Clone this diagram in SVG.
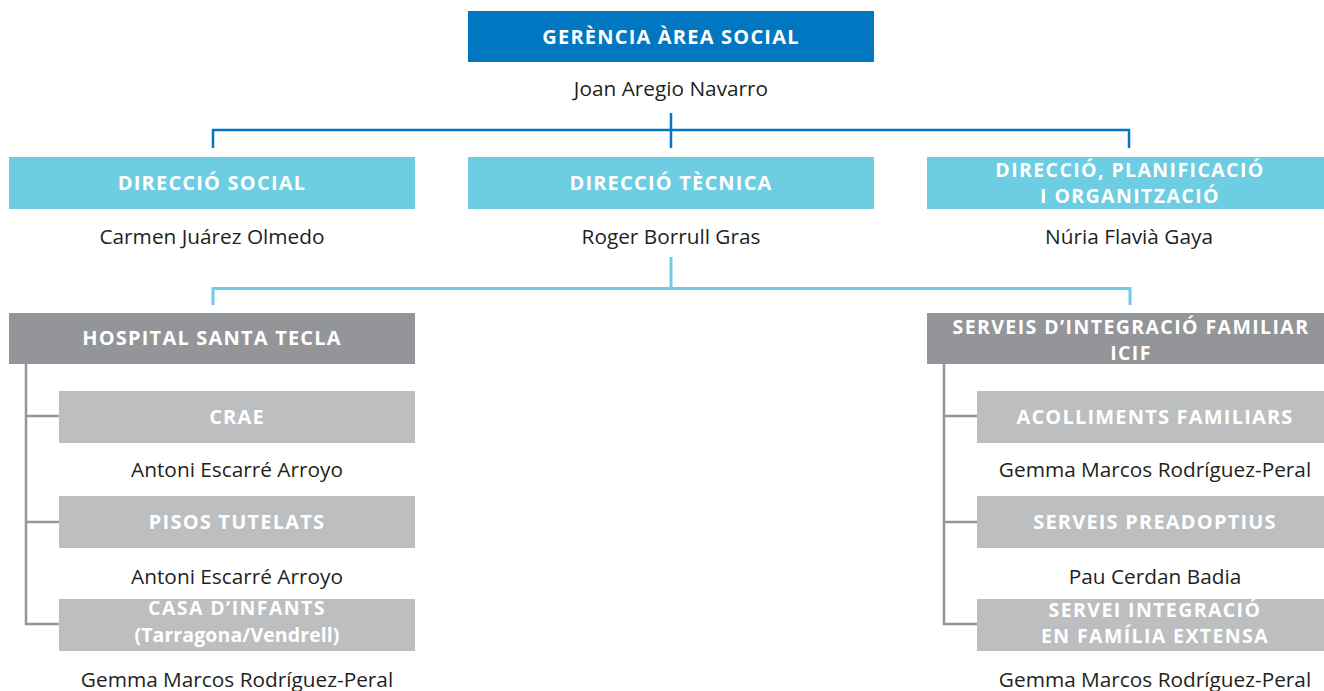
<svg xmlns="http://www.w3.org/2000/svg" width="1324" height="691" viewBox="0 0 1324 691">
<style>
.t{font-family:"Open Sans","Liberation Sans",sans-serif;font-weight:bold;font-size:20px;fill:#ffffff;text-anchor:middle;letter-spacing:1.2px}
.t2{font-size:19.5px;letter-spacing:1.4px}
.lc{letter-spacing:0.1px}
.n{font-family:"Open Sans","Liberation Sans",sans-serif;font-size:20.8px;fill:#231f20;text-anchor:middle}
.b1{fill:#0077c0}
.b2{fill:#6dcde3}
.b3{fill:#939598}
.b4{fill:#bcbec0}
.c1{stroke:#0077c0;stroke-width:2.5;fill:none}
.c2{stroke:#6dcde3;stroke-width:3;fill:none}
.c3{stroke:#939598;stroke-width:2.5;fill:none}
</style>
<rect width="1324" height="691" fill="#ffffff"/>
<g id="connectors">
<path class="c1" d="M213 148V130H1129V148M671 113V148"/>
<path class="c2" d="M213 305V288.5H1130V305M671 257V288.5"/>
<path class="c3" d="M26 364V624H59M26 416H59M26 522H59"/>
<path class="c3" d="M944 364V624H977M944 416H977M944 522H977"/>
</g>
<g id="gerencia">
<rect class="b1" x="468" y="11" width="406" height="51"/>
<text class="t" x="671" y="44">GERÈNCIA ÀREA SOCIAL</text>
<text class="n" x="671" y="96">Joan Aregio Navarro</text>
</g>
<g id="direccio-social">
<rect class="b2" x="9" y="157" width="406" height="52"/>
<text class="t" x="212" y="190">DIRECCIÓ SOCIAL</text>
<text class="n" x="212" y="244">Carmen Juárez Olmedo</text>
</g>
<g id="direccio-tecnica">
<rect class="b2" x="468" y="157" width="406" height="52"/>
<text class="t" x="671" y="190">DIRECCIÓ TÈCNICA</text>
<text class="n" x="671" y="244">Roger Borrull Gras</text>
</g>
<g id="direccio-planificacio">
<rect class="b2" x="927" y="157" width="406" height="52"/>
<text class="t t2" x="1130" y="176.6">DIRECCIÓ, PLANIFICACIÓ</text>
<text class="t t2" x="1130" y="203.4">I ORGANITZACIÓ</text>
<text class="n" x="1129" y="244">Núria Flavià Gaya</text>
</g>
<g id="hospital">
<rect class="b3" x="9" y="313" width="406" height="51"/>
<text class="t" x="212" y="345">HOSPITAL SANTA TECLA</text>
</g>
<g id="crae">
<rect class="b4" x="59" y="391" width="356" height="52"/>
<text class="t" x="237" y="424">CRAE</text>
<text class="n" x="237" y="477">Antoni Escarré Arroyo</text>
</g>
<g id="pisos">
<rect class="b4" x="59" y="496" width="356" height="52"/>
<text class="t" x="237" y="529">PISOS TUTELATS</text>
<text class="n" x="237" y="584">Antoni Escarré Arroyo</text>
</g>
<g id="casa">
<rect class="b4" x="59" y="599" width="356" height="52"/>
<text class="t t2" x="237" y="615.1">CASA D’INFANTS</text>
<text class="t t2 lc" x="237" y="641.9">(Tarragona/Vendrell)</text>
<text class="n" x="237" y="687">Gemma Marcos Rodríguez-Peral</text>
</g>
<g id="serveis-integracio">
<rect class="b3" x="927" y="313" width="406" height="51"/>
<text class="t t2" x="1131" y="333.6">SERVEIS D’INTEGRACIÓ FAMILIAR</text>
<text class="t t2" x="1131" y="360.4">ICIF</text>
</g>
<g id="acolliments">
<rect class="b4" x="977" y="391" width="356" height="52"/>
<text class="t" x="1155" y="424">ACOLLIMENTS FAMILIARS</text>
<text class="n" x="1155" y="477">Gemma Marcos Rodríguez-Peral</text>
</g>
<g id="preadoptius">
<rect class="b4" x="977" y="496" width="356" height="52"/>
<text class="t" x="1155" y="529">SERVEIS PREADOPTIUS</text>
<text class="n" x="1155" y="584">Pau Cerdan Badia</text>
</g>
<g id="familia-extensa">
<rect class="b4" x="977" y="599" width="356" height="52"/>
<text class="t t2" x="1155" y="616.6">SERVEI INTEGRACIÓ</text>
<text class="t t2" x="1155" y="643.4">EN FAMÍLIA EXTENSA</text>
<text class="n" x="1155" y="687">Gemma Marcos Rodríguez-Peral</text>
</g>
</svg>
